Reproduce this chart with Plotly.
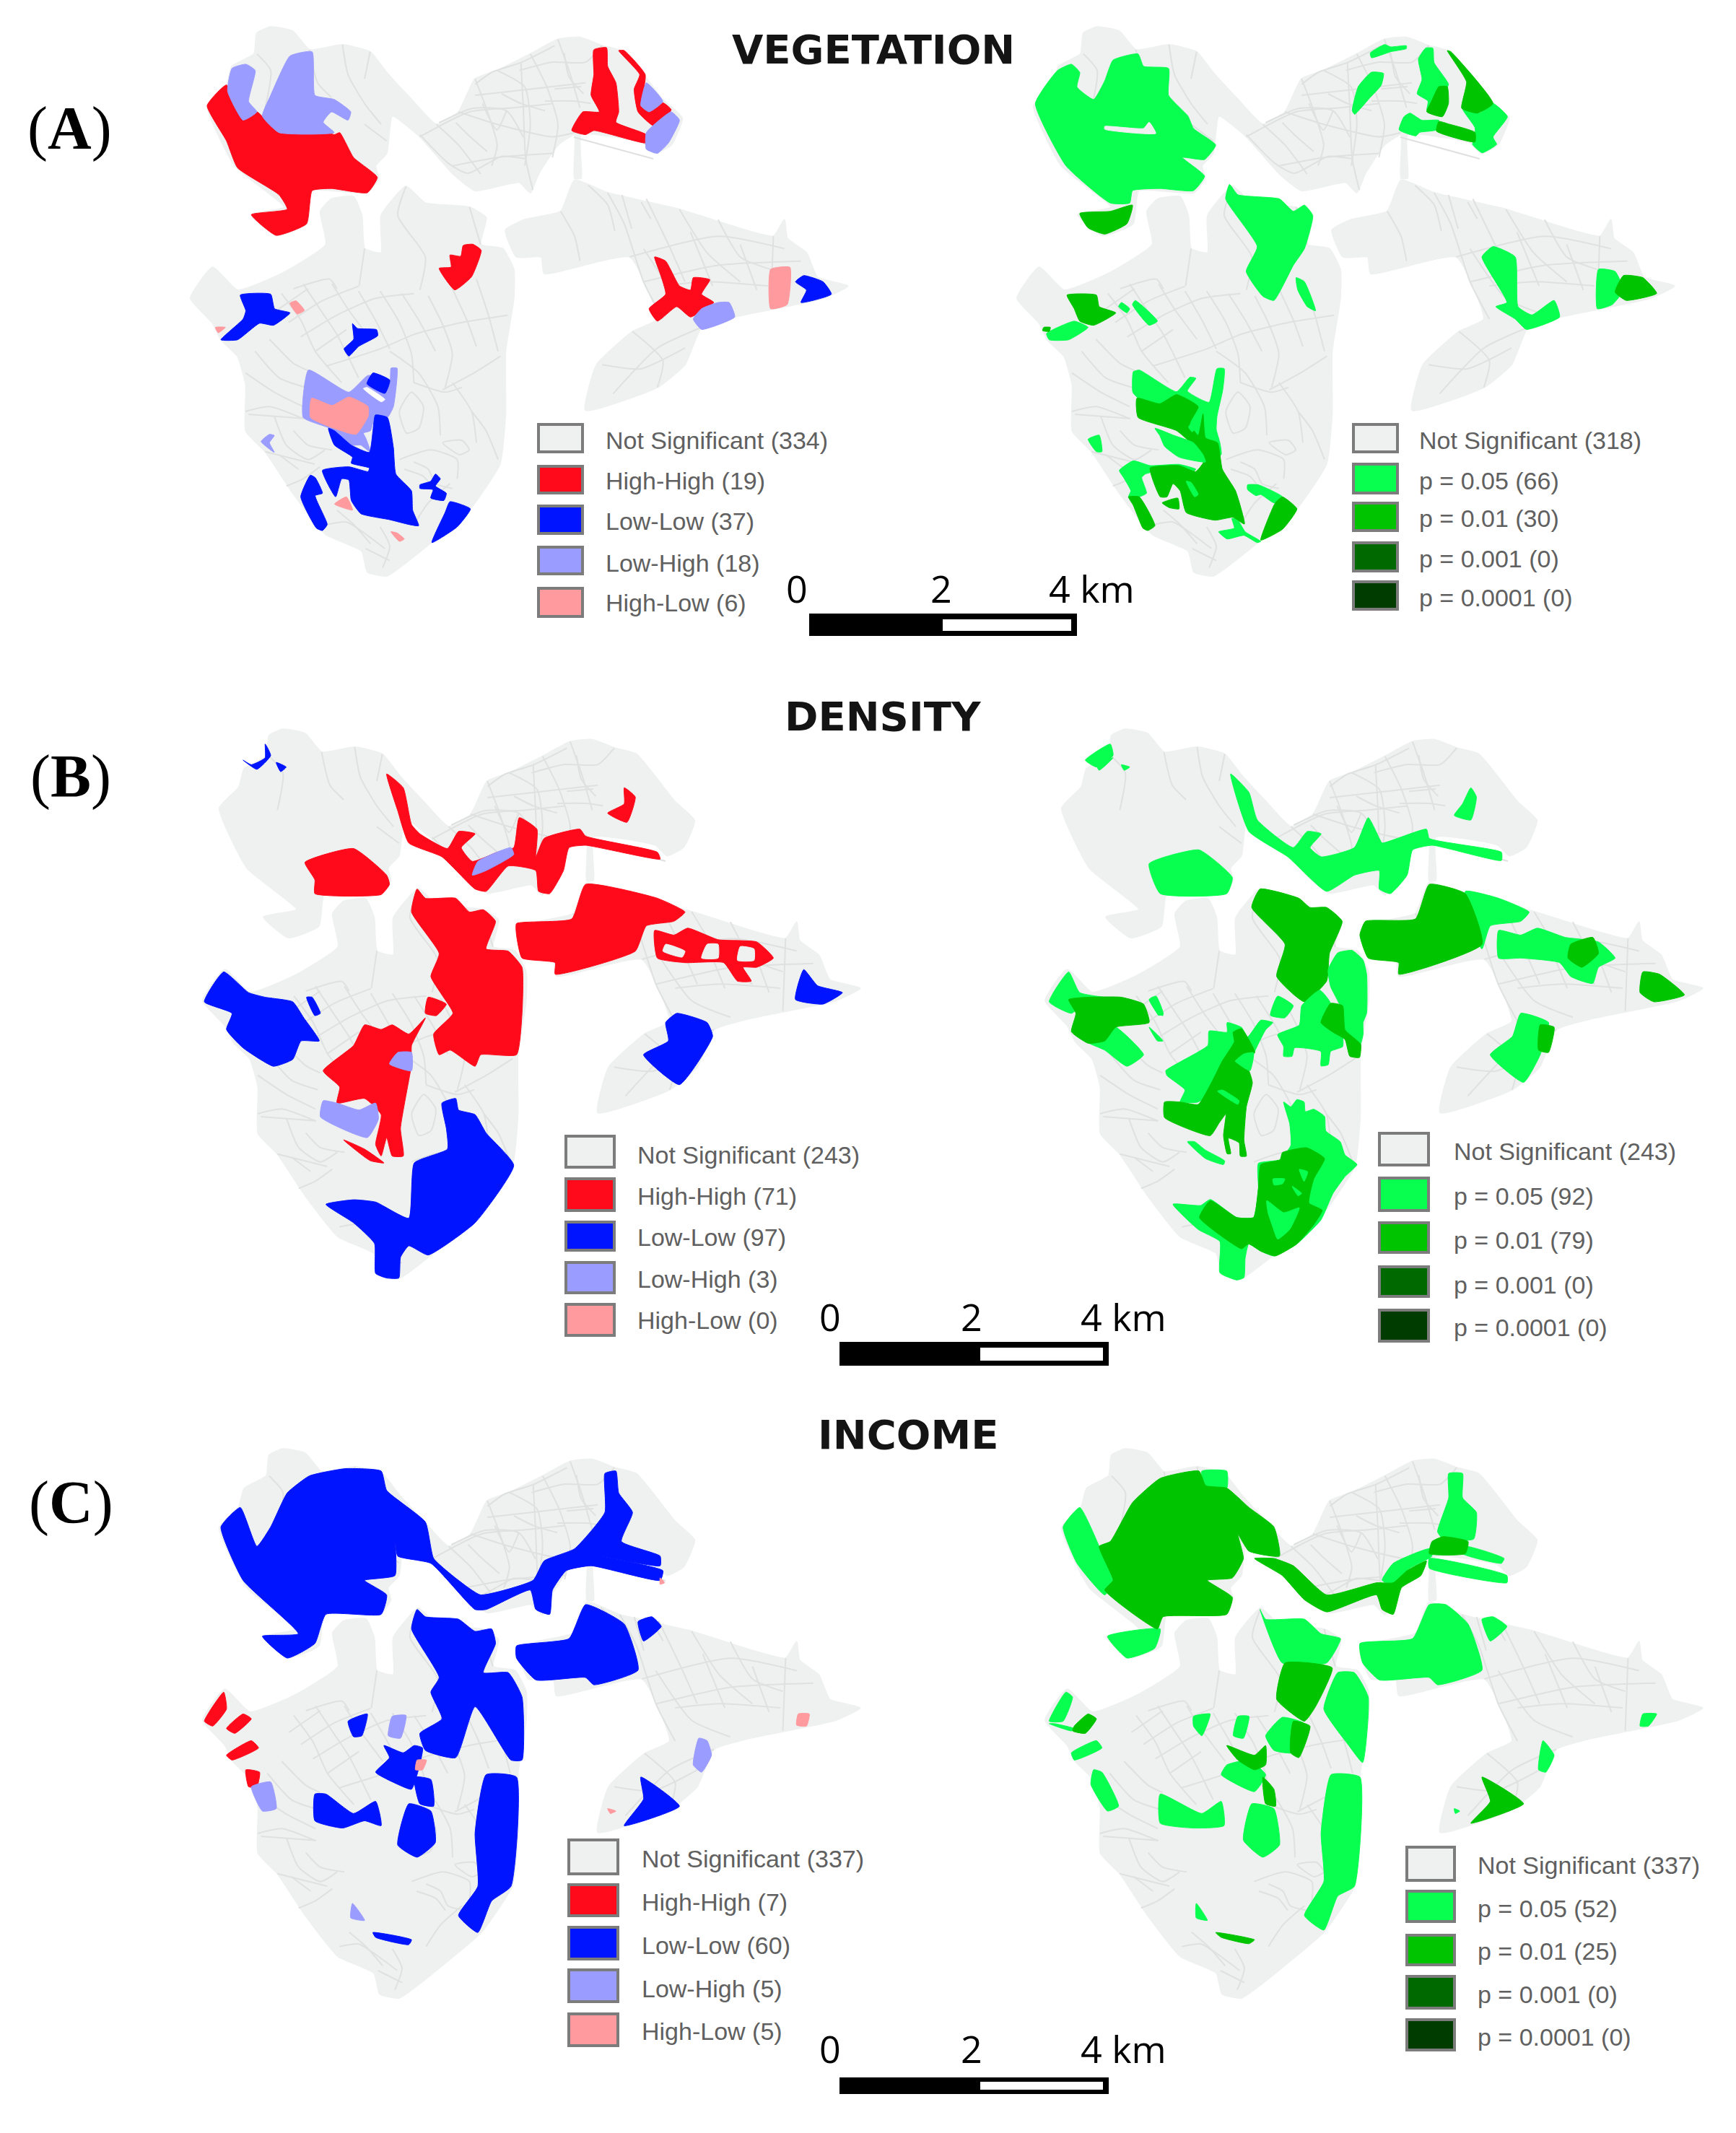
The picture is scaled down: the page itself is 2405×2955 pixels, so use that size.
import plotly.graph_objects as go

PAGE_W = 2405
PAGE_H = 2955
BODY_MARGIN = 8

GREY = "#eff0f0"
TRACT = "#dfe0e0"
RED = "#ff0a1a"
BLUE = "#0014ff"
LBLUE = "#9a9cff"
PINK = "#ff9a9e"
G05 = "#08ff50"
G01 = "#00c400"
G001 = "#006a00"
G0001 = "#003c00"
WHITE = "#ffffff"

# base map
BASE_NORTH = [(465,80),(490,65),(530,75),(560,120),(620,108),(670,125),(700,175),(745,240),(790,300),(830,270),(860,190),(900,170),(960,130),(1010,95),(1050,90),(1090,110),(1130,125),(1200,240),(1235,285),(1215,350),(1185,370),(1165,345),(1052,325),(1052,430),(1040,430),(1040,325),(1010,350),(975,420),(960,465),(940,440),(860,460),(820,420),(760,330),(710,280),(700,370),(680,400),(685,430),(665,465),(565,460),(555,540),(500,568),(455,518),(515,500),(425,400),(375,255),(410,205),(420,160),(460,130)]
BASE_SOUTH = [(580,510),(600,480),(640,475),(655,520),(660,600),(690,610),(690,520),(735,450),(770,490),(850,500),(880,525),(870,590),(910,600),(930,650),(930,720),(915,850),(915,1000),(905,1120),(850,1230),(780,1310),(700,1390),(665,1380),(655,1330),(590,1290),(530,1190),(480,1090),(445,1040),(445,930),(430,860),(400,820),(385,780),(345,720),(385,645),(430,700),(510,660),(590,590)]
BASE_EAST = [(915,555),(950,530),(1015,510),(1040,435),(1100,465),(1230,505),(1400,570),(1420,530),(1425,575),(1460,610),(1480,670),(1535,690),(1490,720),(1330,765),(1270,790),(1240,880),(1190,935),(1060,990),(1080,880),(1145,800),(1190,770),(1140,620),(985,660),(980,620),(935,620)]

TRACT_LINES = [
    [(560,120),(575,200),(600,235)], [(620,108),(630,180),(660,250),(690,300)], [(670,125),(660,190)],
    [(465,130),(490,170),(480,260)], [(660,300),(700,340)], [(760,330),(850,270),(930,260),(1000,250)],
    [(790,300),(830,350),(870,420)], [(860,190),(880,260),(900,350),(890,400)],
    [(900,170),(950,210),(960,300),(950,400)], [(960,130),(990,210),(1010,300),(1000,380)],
    [(1010,95),(1030,170),(1050,260)], [(830,270),(900,300),(1000,330),(1040,320)],
    [(820,400),(900,380),(1000,370)], [(860,230),(960,215),(1060,200)],
    [(1090,110),(1060,150),(1000,150),(940,170)], [(660,600),(650,690)],
    [(735,450),(720,520),(770,620),(760,700)], [(870,590),(850,500)],
    [(1015,510),(1040,570),(1050,630)], [(1100,465),(1130,540),(1165,680),(1200,770)],
    [(1170,480),(1210,590),(1240,680)], [(1230,505),(1280,610),(1340,680)], [(1300,530),(1340,620),(1395,650)],
    [(1140,620),(1300,570),(1420,600)], [(1165,680),(1300,640),(1450,630)], [(1400,570),(1395,745)],
    [(1270,790),(1190,840),(1110,950)], [(1145,800),(1200,870),(1190,935)], [(1090,880),(1160,890),(1240,840)],
    [(1165,600),(1230,720),(1300,760)], [(1250,560),(1290,690)], [(1340,590),(1370,700)],
    [(1200,690),(1280,680),(1390,690)], [(450,1000),(550,1010)], [(480,1090),(570,1120)],
]
# finer cells of the south lobe, read at 3x from (340, 330)
FINE_SOUTH = [
    [(200,210),(350,170),(380,210)], [(130,300),(260,210)], [(180,350),(320,260),(470,200)],
    [(230,410),(380,320),(540,250),(700,230)], [(290,470),(420,380)],
    [(340,530),(560,460),(700,400),(900,350),(1090,320)], [(100,420),(200,520),(260,550)],
    [(40,470),(140,580),(250,620)], [(0,560),(120,640),(240,700)], [(0,720),(100,700),(240,750)],
    [(150,230),(230,340),(290,470),(400,600)], [(240,190),(320,310),(380,400),(470,580)],
    [(360,190),(430,300),(520,420)], [(470,220),(540,340),(600,460)], [(560,220),(640,350),(690,480),(700,600)],
    [(650,230),(720,340),(790,470)], [(760,240),(820,360),(860,480),(830,620)], [(860,210),(920,340),(960,450)],
    [(960,170),(1010,320),(1050,470)], [(600,470),(720,560),(800,700),(810,820)], [(820,630),(950,560),(1060,490)],
    [(700,600),(830,640),(900,620)], [(640,720),(690,640),(740,700),(720,790),(670,810),(640,720)],
    [(640,920),(770,880),(880,920),(880,1000)], [(700,930),(760,960),(790,1020),(860,1040)],
    [(660,960),(740,990),(780,1040)], [(820,850),(900,840),(930,880),(890,900),(820,850)],
    [(940,720),(1000,800),(1050,920)], [(860,600),(940,720),(960,850)], [(120,740),(170,860),(260,920),(330,880)],
    [(200,800),(260,860),(360,880)], [(140,900),(220,960)], [(170,1030),(240,1000),(310,950)],
    [(340,1190),(420,1180),(500,1230),(580,1290)], [(380,1130),(450,1190),(520,1270)], [(500,1290),(600,1340)],
    [(560,1200),(600,1280),(570,1370)], [(700,1190),(760,1100),(850,1020)],
]
# finer cells of the north east lobe, read at 3x from (555, 30)
FINE_NORTH = [
    [(310,260),(380,210),(500,170),(640,100)], [(160,420),(300,360),(440,370),(510,480)],
    [(80,470),(200,590),(280,630),(420,560),(520,570)], [(230,420),(280,470),(360,540)],
    [(340,340),(400,450),(440,370)], [(420,300),(500,340),(600,370)], [(500,170),(510,360),(520,570),(550,700)],
    [(680,130),(700,230),(760,300)], [(600,330),(720,330),(790,340)], [(640,280),(750,270)],
    [(720,480),(1050,570)], [(780,680),(860,760),(890,870)], [(920,720),(960,860)], [(1000,750),(1040,820)],
]

# vegetation, left
VEG_HH = [
    [(410,205),(440,290),(465,270),(505,320),(580,312),(605,325),(615,320),(640,380),(683,428),(665,465),(600,455),(565,460),(555,540),(500,568),(455,518),(520,505),(505,470),(430,405),(410,340),(375,255)],
    [(1075,120),(1098,115),(1100,160),(1115,200),(1120,270),(1115,295),(1170,325),(1170,345),(1075,315),(1060,325),(1035,315),(1055,270),(1085,270),(1070,230),(1075,180)],
    [(1120,122),(1130,122),(1168,180),(1162,250),(1175,270),(1200,248),(1215,265),(1185,305),(1155,270),(1148,215),(1158,180)],
    [(1185,620),(1205,630),(1230,690),(1250,700),(1255,670),(1285,675),(1270,710),(1292,730),(1250,765),(1225,740),(1190,775),(1175,745),(1205,710),(1195,660)],
]
VEG_LL = [
    [(435,712),(490,710),(497,745),(525,755),(495,785),(470,780),(430,820),(400,820),(440,770),(445,750)],
    [(1455,665),(1490,680),(1505,710),(1450,730),(1460,700),(1440,680)],
]
VEG_LH = [
    [(420,165),(445,155),(462,170),(450,245),(465,270),(440,290),(412,220)],
    [(525,135),(565,125),(570,230),(605,240),(635,270),(630,290),(600,270),(585,295),(605,320),(505,320),(475,280),(490,230)],
    [(1170,200),(1200,245),(1175,270),(1160,255)],
    [(1215,270),(1230,290),(1210,345),(1190,370),(1170,360),(1170,320)],
    [(1300,730),(1320,730),(1330,765),(1270,795),(1255,770),(1270,745)],
]
VEG_HL = [
    [(1395,650),(1430,645),(1425,735),(1395,745)],
    [(390,790),(408,790),(395,803)],
]
# vegetation left, south lobe, read at 3x from (340, 330)
VEG_S_LH = [
    [(262,548),(430,640),(510,570),(600,590),(605,540),(630,540),(615,700),(590,745),(540,735),(520,800),(490,810),(500,830),(520,890),(480,860),(435,860),(350,790),(240,745)],
    [(100,815),(120,820),(100,850),(120,890),(65,845)],
]
VEG_S_HL = [
    [(275,665),(360,695),(430,660),(510,700),(510,740),(460,815),(340,780),(270,745)],
    [(420,1075),(445,1130),(370,1105)],
    [(605,1220),(630,1225),(660,1250),(640,1260)],
    [(185,270),(210,260),(245,300),(215,315)],
]
VEG_S_LL = [
    [(530,560),(600,590),(580,645),(505,605)],
    [(540,735),(590,745),(615,870),(625,980),(690,1050),(695,1130),(720,1195),(680,1190),(600,1170),(480,1145),(440,1090),(430,1005),(400,1000),(375,1075),(320,965),(430,950),(510,970),(515,955),(440,935),(445,910),(370,860),(345,790),(370,800),(440,860),(515,890),(530,800)],
    [(270,985),(290,995),(320,1060),(290,1070),(340,1190),(320,1215),(295,1205),(230,1075)],
    [(790,980),(810,1000),(790,1030),(835,1060),(825,1090),(770,1080),(780,1045),(725,1040),(725,1025),(770,1010)],
    [(850,1095),(935,1125),(880,1200),(775,1265),(830,1140)],
    [(445,355),(465,375),(545,380),(550,405),(470,450),(430,490),(410,460),(450,420)],
]
VEG_S_GAP = [[(490,625),(505,620),(580,670),(565,680)]]
VEG_S_HH = [[(905,30),(945,25),(980,50),(940,160),(870,215),(805,125),(855,120),(850,70),(895,75)]]

# vegetation, right
VEG_P05 = [
    [(345,170),(370,155),(385,175),(380,210),(410,240),(430,195),(445,145),(490,130),(500,160),(545,165),(545,230),(580,280),(590,310),(630,350),(610,385),(570,380),(610,425),(590,460),(530,455),(480,460),(475,490),(440,490),(360,400),(305,250)],
    [(655,445),(670,470),(745,480),(770,510),(790,495),(805,520),(790,600),(770,640),(735,725),(715,715),(685,655),(705,595),(648,480)],
    [(775,670),(790,680),(810,750),(795,740),(778,700)],
    [(375,775),(400,790),(365,820),(330,820),(325,805)],
    [(460,730),(475,745),(470,755),(455,740)],
    [(485,725),(525,775),(510,785),(480,735)],
    [(1110,620),(1130,595),(1170,620),(1175,740),(1200,760),(1240,725),(1250,765),(1190,795),(1170,770),(1135,740),(1155,730)],
    [(1320,650),(1350,655),(1365,700),(1345,735),(1318,745)],
    [(400,1060),(420,1050),(425,1090),(415,1090)],
]
VEG_P01 = [
    [(385,515),(440,510),(480,495),(470,540),(430,565),(400,550)],
    [(362,712),(415,712),(420,740),(450,755),(410,785),(385,775),(375,745)],
    [(320,790),(332,790),(330,800),(318,798)],
    [(1365,665),(1400,670),(1425,708),(1370,725),(1350,705)],
]
VEG_SLIT = [[(430,305),(500,310),(510,295),(522,322),(430,312)]]
# vegetation right, south lobe, read at 3x from (1520, 480)
VEG_RS_P05 = [
    [(150,105),(175,98),(330,188),(385,128),(410,132),(375,185),(465,232),(498,92),(528,92),(522,180),(498,290),(495,345),(510,400),(515,450),(440,480),(380,400),(380,320),(165,210),(148,190)],
    [(92,515),(150,475),(220,495),(340,490),(410,510),(400,520),(340,500),(200,530),(185,545),(205,610),(160,630),(130,625),(140,600),(110,545)],
    [(625,575),(670,575),(770,625),(735,650),(680,615),(660,620),(625,595)],
    [(505,770),(570,755),(560,715),(580,715),(615,770),(680,810),(665,815),(610,785),(540,800)],
]
VEG_RS_P01 = [
    [(165,215),(260,238),(330,200),(420,250),(385,320),(420,370),(440,280),(450,380),(500,400),(520,510),(575,600),(612,738),(565,710),(490,722),(370,690),(345,600),(315,570),(290,625),(262,625),(220,505),(340,495),(410,520),(445,475),(420,430),(330,350),(170,295)],
    [(270,650),(335,630),(340,675),(300,670)],
    [(740,650),(770,625),(830,675),(770,760),(680,805),(705,730)],
    [(130,625),(175,625),(240,745),(210,765),(190,755),(150,660)],
]
VEG_RS_P05_TOP = [
    [(240,340),(320,370),(400,400),(440,450),(450,480),(340,460),(280,415),(260,370)],
    [(370,560),(390,565),(420,615),(405,625)],
    [(380,335),(415,290),(420,320),(395,355)],
]
# vegetation right, north east lobe, read at 3x from (1700, 30)
VEG_RN_P05 = [
    [(595,130),(655,95),(680,105),(745,100),(745,112),(680,125),(600,150)],
    [(600,210),(650,215),(640,265),(590,320),(530,385),(520,370),(545,270)],
    [(825,110),(855,110),(860,170),(920,260),(900,300),(850,380),(830,370),(835,330),(790,300),(810,240),(795,155)],
    [(760,380),(810,410),(880,410),(870,450),(800,460),(785,475),(715,450),(735,395)],
    [(1030,440),(980,365),(1050,380),(1105,340),(1165,395),(1105,480),(1120,510),(1060,545),(1020,510),(1030,480)],
]
VEG_RN_P01 = [
    [(915,120),(930,125),(1105,340),(1040,380),(975,360),(995,250)],
    [(880,270),(915,270),(920,340),(895,395),(830,375),(850,330)],
    [(880,415),(920,425),(1030,460),(1030,500),(870,455)],
]

# density, left
DEN_HH = [
    [(552,462),(640,432),(700,490),(705,510),(690,532),(570,530),(570,500)],
    [(700,270),(730,300),(745,380),(760,400),(810,432),(830,395),(860,400),(835,430),(855,460),(900,440),(930,430),(940,365),(972,390),(970,450),(985,410),(1050,390),(1060,405),(1190,440),(1195,455),(1060,425),(1030,430),(1020,480),(995,530),(975,525),(970,480),(920,470),(880,525),(860,520),(800,450),(740,420),(720,350)],
    [(1130,300),(1150,320),(1135,375),(1100,355),(1130,335)],
    [(755,520),(770,540),(825,540),(850,570),(875,565),(897,590),(880,650),(920,655),(945,690),(945,790),(935,880),(870,880),(860,905),(815,870),(795,880),(785,835),(820,790),(800,750),(780,710),(795,660),(745,570)],
    [(935,595),(1035,585),(1060,510),(1190,540),(1240,570),(1220,590),(1170,600),(1150,655),(1005,705),(1005,680),(945,670),(935,620)],
    [(1185,610),(1220,620),(1245,605),(1300,630),(1370,635),(1400,670),(1370,690),(1345,690),(1360,720),(1335,720),(1310,680),(1240,680),(1190,670)],
    [(660,815),(690,825),(710,815),(740,835),(770,800),(745,860),(745,900),(725,1040),(730,1100),(710,1100),(700,1060),(690,1100),(680,1075),(690,1010),(660,975),(610,985),(615,950),(585,915),(640,860)],
    [(622,1065),(660,1085),(695,1115),(670,1110)],
    [(775,755),(808,770),(790,795),(770,790)],
]
DEN_LL = [
    [(405,700),(450,745),(480,755),(530,765),(550,800),(578,850),(545,850),(530,890),(495,905),(440,865),(410,825),(420,790),(370,765)],
    [(555,755),(565,755),(580,790),(570,795)],
    [(480,205),(490,230),(465,260),(440,240),(455,250),(480,235)],
    [(500,245),(518,255),(508,265)],
    [(1455,695),(1480,730),(1525,745),(1490,770),(1440,760)],
    [(1225,790),(1280,810),(1290,840),(1230,945),(1165,880),(1210,850),(1205,810)],
    [(800,985),(825,975),(830,1000),(860,1010),(880,1050),(930,1120),(860,1245),(775,1315),(740,1295),(725,1320),(722,1365),(700,1365),(680,1355),(678,1290),(640,1245),(590,1205),(640,1195),(680,1200),(740,1235),(750,1115),(810,1085),(808,1040)],
]
DEN_LH = [
    [(585,980),(610,985),(650,1000),(680,985),(685,1020),(665,1060),(580,1015)],
    [(855,490),(865,460),(925,430),(930,445),(880,480)],
    [(720,875),(745,875),(745,915),(705,900)],
]
DEN_HOLES = [
    [(1280,640),(1300,640),(1300,670),(1270,670)],
    [(1340,645),(1365,650),(1365,675),(1335,675)],
    [(1205,640),(1240,655),(1235,668),(1200,655)],
]

# density, right
DEN_P05 = [
    [(395,240),(440,205),(445,230),(415,255)],
    [(415,250),(445,235),(420,262)],
    [(460,250),(475,255),(465,262)],
    [(510,465),(600,435),(660,495),(650,530),(530,530)],
    [(657,270),(690,310),(705,370),(770,430),(795,395),(820,400),(800,430),(820,450),(880,430),(905,365),(925,410),(930,420),(1010,390),(1015,410),(1145,440),(1145,458),(1020,425),(985,435),(975,490),(945,530),(925,520),(925,480),(880,490),(830,525),(760,450),(690,395)],
    [(1090,300),(1100,320),(1090,370),(1060,360),(1075,335)],
    [(1080,525),(1140,540),(1195,570),(1180,590),(1125,600),(1110,650),(1090,600)],
    [(1140,610),(1180,620),(1210,605),(1260,625),(1320,635),(1350,670),(1320,690),(1310,725),(1290,720),(1270,710),(1250,680),(1180,670),(1140,670)],
    [(330,765),(365,700),(385,745),(460,760),(400,760),(370,790)],
    [(400,820),(450,820),(500,880),(470,905),(430,870),(395,850)],
    [(510,760),(520,755),(535,795),(525,790)],
    [(510,820),(535,850),(525,850)],
    [(1180,790),(1230,810),(1215,880),(1185,940),(1125,880),(1165,840)],
]
DEN_P01 = [
    [(710,520),(780,540),(800,560),(830,560),(858,590),(835,660),(830,720),(790,765),(740,710),(755,640),(695,560)],
    [(1015,510),(1080,530),(1110,640),(960,705),(960,680),(905,670),(890,620),(900,590),(990,585)],
    [(365,760),(400,755),(460,755),(500,770),(510,810),(450,820),(430,850),(400,855),(370,830),(378,790)],
    [(1400,700),(1430,705),(1475,750),(1420,765),(1395,745)],
    [(1270,640),(1310,625),(1320,660),(1290,690),(1265,670)],
    [(1215,815),(1240,820),(1230,875),(1212,870)],
]
# density right, middle and south, read at 3x from (1580, 1300)
DEN_RS_P05 = [
    [(40,250),(65,240),(95,315),(75,320)],
    [(570,240),(635,280),(600,330),(540,320)],
    [(105,550),(280,445),(285,385),(360,390),(360,350),(420,370),(445,410),(500,340),(550,350),(520,380),(470,480),(440,570),(340,600),(240,680),(165,680),(185,630),(110,570)],
    [(195,845),(225,845),(270,880),(350,925),(345,940),(270,915)],
    [(780,130),(820,60),(880,50),(925,90),(940,150),(940,310),(925,350),(925,400),(910,450),(850,380),(830,280),(790,200)],
    [(570,400),(660,360),(670,280),(745,215),(790,270),(750,350),(840,410),(840,450),(790,470),(780,525),(750,530),(750,470),(640,455),(630,490),(595,490),(595,450)],
    [(595,680),(625,700),(650,670),(680,680),(685,720),(720,710),(765,740),(770,800),(830,845),(850,900),(900,940),(850,990),(800,1060),(750,1170),(650,1270),(555,1320),(500,1300),(450,1270),(435,1330),(430,1410),(400,1420),(330,1390),(330,1260),(240,1210),(135,1105),(250,1110),(290,1085),(400,1160),(470,1160),(490,1040),(490,935),(580,920),(625,860),(620,770)],
]
DEN_RS_P01 = [
    [(100,680),(165,680),(240,690),(300,590),(340,510),(390,430),(385,390),(420,375),(450,420),(475,475),(390,510),(450,550),(465,600),(440,700),(430,840),(440,905),(415,905),(410,850),(365,830),(375,895),(360,895),(345,820),(355,730),(325,770),(290,820),(100,745)],
    [(750,350),(790,270),(840,280),(850,380),(915,440),(910,495),(870,490),(850,420),(800,390)],
    [(590,890),(690,870),(765,915),(720,1000),(700,1100),(755,1130),(720,1190),(650,1270),(560,1320),(500,1300),(450,1270),(420,1290),(340,1240),(245,1160),(290,1090),(400,1160),(470,1160),(490,1040),(500,940),(580,920)],
]
DEN_RS_P05_TOP = [
    [(320,635),(340,630),(410,675),(405,690)],
    [(395,510),(430,480),(470,475),(455,550)],
    [(525,1090),(595,1140),(660,1120),(620,1210),(570,1250),(550,1200),(530,1140)],
    [(550,1000),(600,1000),(590,1020),(555,1025)],
    [(660,960),(695,970),(680,1010)],
    [(630,1030),(670,1060),(655,1070)],
]

# income, left
INC_LL = [
    [(400,320),(435,280),(465,360),(490,320),(520,250),(560,215),(625,200),(690,205),(700,245),(770,310),(785,385),(830,430),(870,460),(965,430),(985,390),(1040,365),(1095,290),(1095,210),(1115,205),(1120,250),(1145,290),(1125,350),(1195,380),(1195,400),(1090,380),(1200,410),(1195,430),(1070,400),(1025,410),(1000,450),(995,500),(970,490),(960,450),(880,490),(860,490),(780,395),(720,380),(715,340),(715,420),(660,430),(700,460),(690,500),(590,500),(570,560),(520,590),(475,545),(540,540),(440,430)],
    [(755,490),(770,505),(830,510),(860,535),(890,530),(897,560),(875,620),(920,620),(945,670),(945,800),(925,800),(860,690),(825,795),(770,780),(760,745),(800,715),(780,660),(795,630),(745,530)],
    [(935,565),(1030,550),(1060,480),(1130,520),(1155,615),(1075,645),(1060,630),(970,635),(935,590)],
    [(1155,515),(1180,505),(1197,525),(1165,555)],
    [(630,720),(665,705),(655,750),(640,752)],
    [(695,770),(730,785),(750,770),(765,775),(745,860),(720,850),(680,825),(705,795)],
    [(750,835),(780,840),(785,895),(760,890)],
    [(570,870),(590,870),(640,910),(680,885),(690,935),(660,925),(620,940),(570,925)],
    [(740,890),(780,905),(788,970),(755,1000),(720,975)],
    [(880,830),(935,835),(925,1060),(890,1090),(865,1155),(830,1120),(865,1060),(860,950)],
    [(1160,835),(1230,895),(1130,935),(1165,880)],
    [(675,1155),(745,1170),(740,1180),(680,1165)],
]
INC_HH = [
    [(405,660),(410,695),(385,730),(370,720)],
    [(440,705),(455,715),(425,745),(410,735)],
    [(455,760),(468,775),(420,800),(410,790)],
    [(445,820),(470,825),(465,855),(450,855)],
]
INC_LH = [
    [(455,855),(490,845),(500,900),(475,905)],
    [(710,710),(735,708),(725,755),(703,750)],
    [(1265,755),(1280,760),(1288,790),(1270,825),(1255,810)],
    [(638,1095),(660,1130),(635,1125)],
]
INC_HL = [
    [(1445,705),(1465,705),(1460,730),(1442,728)],
    [(755,800),(772,800),(765,820),(752,820)],
    [(1195,425),(1203,435),(1195,438)],
    [(1100,900),(1115,905),(1105,910)],
]

# income, right
INC_P05 = [
    [(355,320),(385,280),(420,360),(445,435),(430,460),(380,395)],
    [(605,205),(650,205),(650,240),(610,235)],
    [(435,545),(530,530),(520,570),(470,590)],
    [(710,490),(720,510),(790,510),(820,540),(855,550),(830,600),(750,600)],
    [(890,560),(985,550),(1015,480),(1045,480),(1085,520),(1110,615),(1030,645),(1015,630),(925,635),(895,600)],
    [(1110,510),(1130,505),(1155,525),(1125,555)],
    [(850,620),(880,620),(905,670),(895,805),(870,770),(825,695)],
    [(720,750),(750,712),(790,725),(770,785),(735,780)],
    [(1050,260),(1050,210),(1075,210),(1075,260),(1100,290),(1095,345),(1040,345),(1030,330)],
    [(930,430),(950,395),(1015,365),(1020,380),(980,405),(950,440)],
    [(1015,385),(1155,420),(1155,435),(1015,405)],
    [(1080,360),(1150,385),(1145,395),(1075,375)],
    [(360,660),(372,670),(355,720),(330,720)],
    [(340,725),(375,735),(370,740),(330,725)],
    [(415,760),(425,775),(375,800),(370,785)],
    [(410,820),(425,825),(455,895),(435,905),(405,850)],
    [(590,710),(620,705),(605,750),(590,730)],
    [(670,710),(690,710),(680,755),(662,750)],
    [(530,870),(605,910),(640,885),(645,935),(590,940),(530,930)],
    [(650,810),(690,800),(720,830),(700,865),(640,830)],
    [(695,890),(735,900),(745,975),(715,1000),(680,965)],
    [(838,830),(890,835),(880,1060),(850,1080),(825,1150),(790,1120),(825,1050),(820,950)],
    [(1220,760),(1240,790),(1225,825),(1212,820)],
    [(1400,705),(1425,705),(1410,730),(1395,730)],
    [(595,1095),(615,1130),(595,1125)],
    [(1060,900),(1070,905),(1062,910)],
]
INC_P01 = [
    [(440,350),(480,270),(530,220),(600,205),(612,235),(650,240),(690,280),(735,320),(745,380),(690,370),(670,335),(680,385),(660,425),(615,430),(660,465),(650,500),(535,505),(525,530),(430,450),(445,430),(420,360)],
    [(700,385),(735,385),(770,400),(830,460),(920,435),(950,435),(975,410),(1010,390),(1000,420),(965,445),(950,500),(930,490),(920,460),(830,495),(790,470),(750,420)],
    [(1020,350),(1040,340),(1085,350),(1080,375),(1015,375)],
    [(755,600),(840,610),(810,690),(790,720),(740,675)],
    [(770,720),(800,730),(780,795),(765,785)],
    [(650,770),(700,790),(720,770),(720,810),(700,820),(670,800)],
    [(715,835),(735,860),(738,895),(720,890)],
    [(375,730),(400,705),(415,715),(395,745),(372,740)],
    [(1110,835),(1185,890),(1090,930),(1125,885)],
    [(630,1155),(700,1170),(690,1178),(640,1165)],
]

LEFT_SWATCHES = [GREY, RED, BLUE, LBLUE, PINK]
RIGHT_SWATCHES = [GREY, G05, G01, G001, G0001]

VEG_LEFT_LABELS = ["Not Significant (334)", "High-High (19)", "Low-Low (37)", "Low-High (18)", "High-Low (6)"]
VEG_RIGHT_LABELS = ["Not Significant (318)", "p = 0.05 (66)", "p = 0.01 (30)", "p = 0.001 (0)", "p = 0.0001 (0)"]
DEN_LEFT_LABELS = ["Not Significant (243)", "High-High (71)", "Low-Low (97)", "Low-High (3)", "High-Low (0)"]
DEN_RIGHT_LABELS = ["Not Significant (243)", "p = 0.05 (92)", "p = 0.01 (79)", "p = 0.001 (0)", "p = 0.0001 (0)"]
INC_LEFT_LABELS = ["Not Significant (337)", "High-High (7)", "Low-Low (60)", "Low-High (5)", "High-Low (5)"]
INC_RIGHT_LABELS = ["Not Significant (337)", "p = 0.05 (52)", "p = 0.01 (25)", "p = 0.001 (0)", "p = 0.0001 (0)"]

fig = go.Figure()


def add_poly(pts, color, org_x, org_y, sx, sy, width=1):
    xs = [org_x + p[0] / sx for p in pts] + [org_x + pts[0][0] / sx]
    ys = [org_y + p[1] / sy for p in pts] + [org_y + pts[0][1] / sy]
    # spline rounds the corners, the reference is soft everywhere
    fig.add_trace(go.Scatter(x=xs, y=ys, mode="lines", fill="toself", fillcolor=color,
                             line=dict(color=color, width=width, shape="spline", smoothing=0.45),
                             hoverinfo="skip", showlegend=False))


def add_polys(groups, org_x, org_y, sx, sy):
    for group, col in groups:
        for poly in group:
            add_poly(poly, col, org_x, org_y, sx, sy)


def add_line(seg, org_x, org_y, sx, sy):
    fig.add_trace(go.Scatter(x=[org_x + p[0] / sx for p in seg], y=[org_y + p[1] / sy for p in seg],
                             mode="lines", line=dict(color=TRACT, width=2, shape="spline", smoothing=0.6),
                             hoverinfo="skip", showlegend=False))


def add_base(dx, dy):
    # base map is the same in all six panels, only moved
    for poly in [BASE_NORTH, BASE_SOUTH, BASE_EAST]:
        add_poly(poly, GREY, dx, dy, 1.3067, 1.742, 2)
    for seg in TRACT_LINES:
        add_line(seg, dx, dy, 1.3067, 1.742)
    for seg in FINE_SOUTH:
        add_line(seg, dx + 340, dy + 330, 3, 3)
    for seg in FINE_NORTH:
        add_line(seg, dx + 555, dy + 30, 3, 3)


def add_legend(swatch_x, swatch_w, tops, bottoms, text_x, text_ys, colors, labels):
    for top, bot, col, lab, ty in zip(tops, bottoms, colors, labels, text_ys):
        fig.add_shape(type="rect", x0=swatch_x, x1=swatch_x + swatch_w, y0=top, y1=bot,
                      fillcolor=col, line=dict(color="#7c7c7c", width=4))
        fig.add_annotation(x=text_x - 3, y=ty, text=lab, showarrow=False, xanchor="left", yanchor="middle",
                           font=dict(family="Liberation Sans", size=34, color="#606060"))


def add_scalebar(x0, x_mid, x1, y0, y1, inner_y0, inner_y1, label_y, lab0_x, lab2_x, lab4_x):
    fig.add_shape(type="rect", x0=x0, x1=x1, y0=y0, y1=y1, fillcolor="#000000", line=dict(width=0))
    fig.add_shape(type="rect", x0=x_mid, x1=x1 - 8, y0=inner_y0, y1=inner_y1, fillcolor="#ffffff", line=dict(width=0))
    for lx, txt in [(lab0_x, "0"), (lab2_x, "2"), (lab4_x, "4 km")]:
        fig.add_annotation(x=lx, y=label_y, text=txt, showarrow=False, xanchor="center", yanchor="middle",
                           font=dict(family="Open Sans", size=52, color="#000000"))


# row A
add_base(0, 0)
add_base(1145, 0)
add_polys([(VEG_HH, RED), (VEG_LH, LBLUE), (VEG_HL, PINK), (VEG_LL, BLUE)], 0, 0, 1.3067, 1.742)
add_polys([(VEG_S_LH, LBLUE), (VEG_S_HL, PINK), (VEG_S_LL, BLUE), (VEG_S_GAP, WHITE), (VEG_S_HH, RED)], 340, 330, 3, 3)
add_polys([(VEG_P05, G05), (VEG_P01, G01), (VEG_SLIT, GREY)], 1200, 0, 1.3012, 1.742)
add_polys([(VEG_RS_P05, G05), (VEG_RS_P01, G01), (VEG_RS_P05_TOP, G05)], 1520, 480, 3, 3)
add_polys([(VEG_RN_P05, G05), (VEG_RN_P01, G01)], 1700, 30, 3, 3)

# row B
add_base(17, 973)
add_base(1184, 973)
add_polys([(DEN_HH, RED), (DEN_LL, BLUE), (DEN_LH, LBLUE), (DEN_HOLES, GREY)], 0, 900, 1.3067, 1.568)
add_polys([(DEN_P05, G05), (DEN_P01, G01)], 1200, 900, 1.3012, 1.568)
add_polys([(DEN_RS_P05, G05), (DEN_RS_P01, G01), (DEN_RS_P05_TOP, G05)], 1580, 1300, 3, 3)

# row C
add_base(17, 1970)
add_base(1184, 1970)
add_polys([(INC_LL, BLUE), (INC_HH, RED), (INC_LH, LBLUE), (INC_HL, PINK)], 0, 1900, 1.3067, 1.486)
add_polys([(INC_P05, G05), (INC_P01, G01)], 1200, 1900, 1.3012, 1.486)

add_legend(746, 61, [588, 646, 701, 758, 815], [626, 683, 739, 795, 854], 840, [610, 666, 722, 780, 835], LEFT_SWATCHES, VEG_LEFT_LABELS)
add_legend(1875, 61, [588, 643, 697, 752, 806], [626, 683, 735, 791, 844], 1967, [610, 666, 718, 774, 828], RIGHT_SWATCHES, VEG_RIGHT_LABELS)
add_legend(784, 67, [1574, 1633, 1693, 1749, 1807], [1617, 1677, 1732, 1791, 1850], 884, [1600, 1657, 1714, 1772, 1829], LEFT_SWATCHES, DEN_LEFT_LABELS)
add_legend(1911, 68, [1570, 1632, 1694, 1755, 1815], [1614, 1677, 1735, 1796, 1858], 2015, [1595, 1657, 1718, 1780, 1839], RIGHT_SWATCHES, DEN_RIGHT_LABELS)
add_legend(788, 68, [2549, 2611, 2670, 2729, 2790], [2596, 2654, 2714, 2773, 2834], 890, [2575, 2635, 2695, 2755, 2814], LEFT_SWATCHES, INC_LEFT_LABELS)
add_legend(1949, 66, [2559, 2620, 2681, 2738, 2798], [2605, 2662, 2722, 2782, 2840], 2048, [2584, 2644, 2703, 2763, 2822], RIGHT_SWATCHES, INC_RIGHT_LABELS)

add_scalebar(1121, 1306, 1492, 850, 881, 858, 874, 814, 1104, 1304, 1512)
add_scalebar(1163, 1358, 1536, 1859, 1892, 1867, 1885, 1823, 1150, 1346, 1556)
add_scalebar(1163, 1358, 1536, 2878, 2901, 2884, 2895, 2837, 1150, 1346, 1556)

for txt, tx, ty in [("VEGETATION", 1210, 68), ("DENSITY", 1223, 992), ("INCOME", 1258, 1987)]:
    fig.add_annotation(x=tx, y=ty, text="<b>%s</b>" % txt, showarrow=False, xanchor="center", yanchor="middle",
                       font=dict(family="DejaVu Sans", size=56, color="#141414"))

for txt, tx, ty in [("(<b>A</b>)", 96, 178), ("(<b>B</b>)", 98, 1076), ("(<b>C</b>)", 98, 2082)]:
    fig.add_annotation(x=tx, y=ty, text=txt, showarrow=False, xanchor="center", yanchor="middle",
                       font=dict(family="Liberation Serif", size=84, color="#000000"))

fig.update_layout(
    width=PAGE_W - BODY_MARGIN, height=PAGE_H - BODY_MARGIN,
    margin=dict(l=0, r=0, t=0, b=0),
    paper_bgcolor="#ffffff", plot_bgcolor="#ffffff", showlegend=False,
    xaxis=dict(range=[BODY_MARGIN, PAGE_W], visible=False, fixedrange=True),
    yaxis=dict(range=[PAGE_H, BODY_MARGIN], visible=False, fixedrange=True),
)

fig.write_html("out.html")
